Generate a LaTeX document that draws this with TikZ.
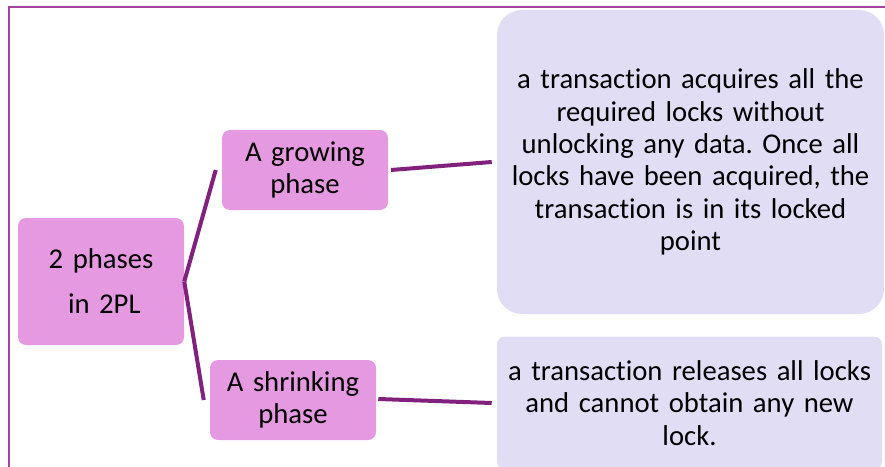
\documentclass[tikz,border=0pt]{standalone}
\usepackage{fontspec}
\setmainfont[RawFeature=-liga]{Carlito}
\frenchspacing
\definecolor{phasepink}{HTML}{E599E0}
\definecolor{notelav}{HTML}{E1DDF5}
\definecolor{linkpurple}{HTML}{82217D}
\definecolor{framepurple}{HTML}{A244A0}
\begin{document}
\begin{tikzpicture}[x=0.75pt,y=-0.75pt,
  phasebox/.style={fill=phasepink,draw=none,rounded corners=6pt,inner sep=0pt,
    align=center,font=\fontsize{21.5}{24.5}\selectfont},
  notebox/.style={fill=notelav,draw=none,inner sep=0pt,align=center,
    font=\fontsize{21.5}{24.2}\selectfont},
  link/.style={draw=linkpurple,line width=3pt}]
\useasboundingbox (0,0) rectangle (885,467);
% slide frame
\draw[framepurple,line width=1.1pt] (9,475) -- (9,7) -- (895,7);
% phase boxes
\node[phasebox,minimum width=124.5pt,minimum height=95.25pt,text width=124.5pt,
  font=\fontsize{21.5}{33.75}\selectfont] (root) at (101,281.5) {2 phases\\ \hspace*{5pt}in 2PL};
\node[phasebox,minimum width=124.5pt,minimum height=60pt,text width=124.5pt] (grow) at (305,170) {A growing\\phase};
\node[phasebox,minimum width=124.5pt,minimum height=60pt,text width=124.5pt] (shrink) at (293,400) {A shrinking\\phase};
% description boxes
\node[notebox,rounded corners=18.75pt,minimum width=290.25pt,minimum height=228pt,text width=290.25pt] (growdesc) at (690.5,162)
  {a transaction acquires all the\\required locks without\\unlocking any data. Once all\\locks have been acquired, the\\transaction is in its locked\\point};
\node[notebox,rounded corners=6pt,minimum width=288.75pt,minimum height=99.75pt,text width=288.75pt] (shrinkdesc) at (689.5,403)
  {a transaction releases all locks\\and cannot obtain any new\\lock.};
% connectors
\draw[link] (root.east) -- ([xshift=-4.5pt]grow.west);
\draw[link] (root.east) -- ([xshift=-4.5pt]shrink.west);
\draw[link] ([xshift=2pt]grow.east) -- ([xshift=-3.75pt]growdesc.west);
\draw[link] ([xshift=1.5pt,yshift=0.75pt]shrink.east) -- ([xshift=-3.75pt]shrinkdesc.west);
\end{tikzpicture}
\end{document}
